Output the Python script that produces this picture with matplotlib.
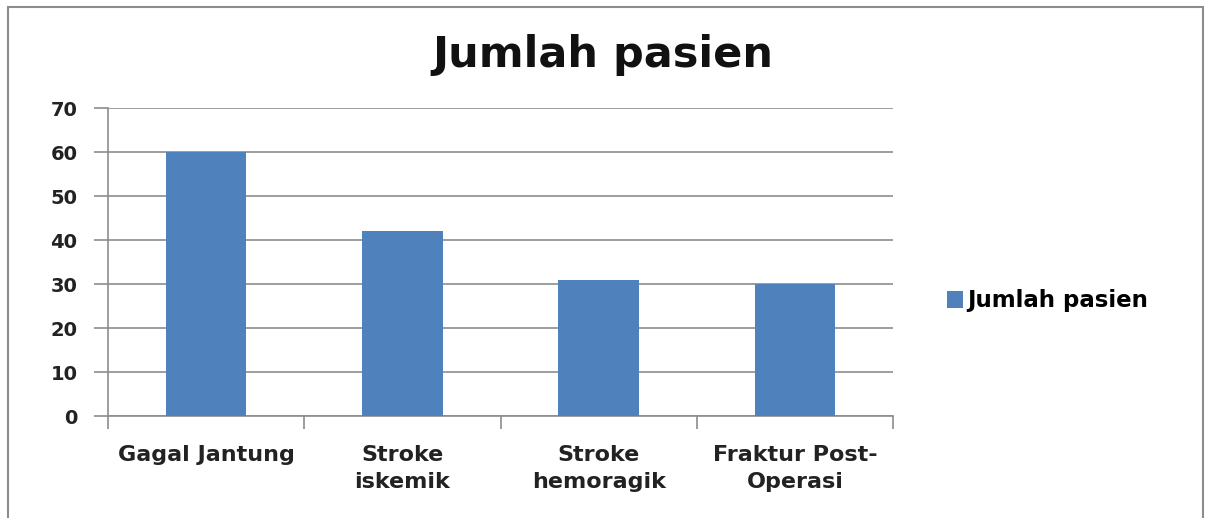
import matplotlib.pyplot as plt
from matplotlib.patches import Rectangle

categories = ["Gagal Jantung", "Stroke\niskemik", "Stroke\nhemoragik", "Fraktur Post-\nOperasi"]
values = [60, 42, 31, 30]
series_name = "Jumlah pasien"
yticks = [0, 10, 20, 30, 40, 50, 60, 70]

plt.rcParams['font.family'] = ['DejaVu Sans']

fig = plt.figure(figsize=(12.05, 5.18), dpi=100)

# outer chart border
fig.patches.append(Rectangle((8 / 1205, -0.01), 1195 / 1205, 1 - 7 / 518 + 0.01,
                             transform=fig.transFigure, fill=False,
                             edgecolor="#8c8c8c", linewidth=1.5))

ax = fig.add_axes([108 / 1205, 1 - 416 / 518, (893 - 108) / 1205, (416 - 108) / 518])

x = range(len(values))
ax.bar(x, values, width=0.41, color="#4F81BD", zorder=3, label=series_name)

ax.set_xlim(-0.5, len(values) - 0.5)
ax.set_ylim(0, 70)
ax.set_yticks(yticks)
ax.set_yticklabels([str(t) for t in yticks], fontsize=14, fontweight="bold", color="#222222")
ax.grid(axis="y", color="#8c8c8c", linewidth=1.2, zorder=0)

ax.set_xticks([i + 0.5 for i in range(-1, len(values))], minor=False)
ax.set_xticklabels([])
ax.set_xticks(list(x), minor=True)
ax.set_xticklabels(categories, minor=True, fontsize=16, fontweight="bold",
                   color="#222222", linespacing=1.45)
ax.tick_params(axis="x", which="minor", length=0, pad=21)
ax.tick_params(axis="x", which="major", length=9, color="#8c8c8c", width=1.2)
ax.tick_params(axis="y", length=10, color="#8c8c8c", width=1.2, pad=12)

for s in ["top", "right"]:
    ax.spines[s].set_visible(False)
for s in ["left", "bottom"]:
    ax.spines[s].set_color("#8c8c8c")
    ax.spines[s].set_linewidth(1.2)

fig.text(603 / 1205, 1 - 55 / 518, "Jumlah pasien", ha="center", va="center",
         fontsize=31, fontweight="bold", color="#111111")

fig.legend(loc="center left", bbox_to_anchor=(926 / 1205, 1 - 301 / 518),
           frameon=False, prop={"weight": "bold", "size": 16.5},
           handlelength=0.7, handleheight=0.7, handletextpad=0.2)

fig.savefig("out.png", dpi=100, facecolor="white")
